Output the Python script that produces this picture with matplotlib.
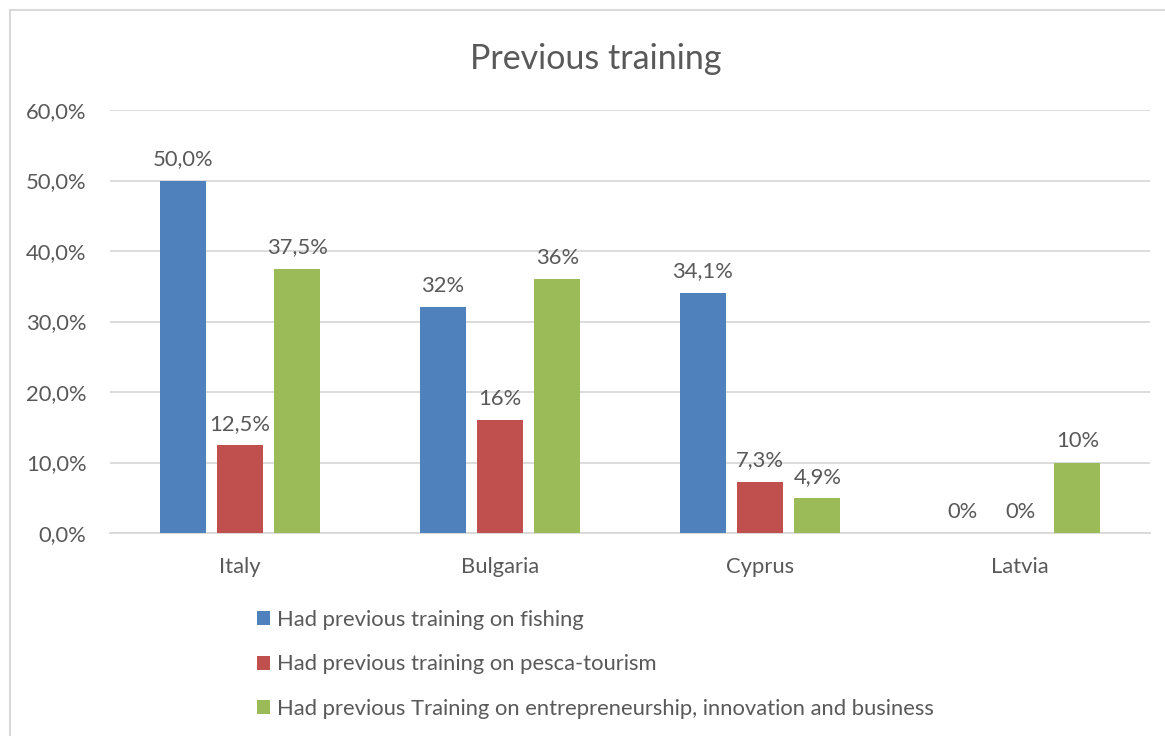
import matplotlib
matplotlib.use("Agg")
import matplotlib.pyplot as plt
import numpy as np
from matplotlib.patches import Rectangle

categories = ["Italy", "Bulgaria", "Cyprus", "Latvia"]
series_names = [
    "Had previous training on fishing",
    "Had previous training on pesca-tourism",
    "Had previous Training on entrepreneurship, innovation and business",
]
fishing = [50.0, 32.0, 34.1, 0.0]
pesca = [12.5, 16.0, 7.3, 0.0]
entre = [37.5, 36.0, 4.9, 10.0]
fishing_labels = ["50,0%", "32%", "34,1%", "0%"]
pesca_labels = ["12,5%", "16%", "7,3%", "0%"]
entre_labels = ["37,5%", "36%", "4,9%", "10%"]
yticks = [0, 10, 20, 30, 40, 50, 60]
ytick_labels = ["0,0%", "10,0%", "20,0%", "30,0%", "40,0%", "50,0%", "60,0%"]

colors = ["#4F81BD", "#C0504D", "#9BBB59"]
text_color = "#595959"
plt.rcParams["font.family"] = ["Lato", "DejaVu Sans"]
fs = 15.8

W, H = 1165, 736
fig = plt.figure(figsize=(W / 100, H / 100), dpi=100)
ax = fig.add_axes([110 / W, 1 - 533 / H, (1150 - 110) / W, (533 - 110) / H])

x = np.arange(len(categories))
bw = 0.177
step = 0.221
data = [fishing, pesca, entre]
labels = [fishing_labels, pesca_labels, entre_labels]
for i, (vals, labs) in enumerate(zip(data, labels)):
    pos = x + (i - 1) * step
    bars = ax.bar(pos, vals, bw, color=colors[i], label=series_names[i], zorder=3)
    ax.bar_label(bars, labels=labs, padding=8, fontsize=fs, color=text_color)

ax.set_xlim(-0.5, len(categories) - 0.5)
ax.set_ylim(0, 60)
ax.set_yticks(yticks)
ax.set_yticklabels(ytick_labels)
ax.set_xticks(x)
ax.set_xticklabels(categories)
ax.tick_params(axis="both", length=0, labelsize=fs, labelcolor=text_color)
ax.tick_params(axis="y", pad=17)
ax.tick_params(axis="x", pad=17)
ax.grid(axis="y", color="#D9D9D9", linewidth=1.3, zorder=0)
for s in ["top", "right", "left"]:
    ax.spines[s].set_visible(False)
ax.spines["bottom"].set_color("#D9D9D9")
ax.spines["bottom"].set_linewidth(1.3)

fig.text(596 / W, 1 - 59 / H, "Previous training", ha="center", va="center",
         fontsize=24.5, color=text_color)

handles, hl = ax.get_legend_handles_labels()
leg = fig.legend(handles, hl, loc="upper left", bbox_to_anchor=(257 / W, 1 - 610 / H),
                 frameon=False, ncol=1, fontsize=fs, labelcolor=text_color,
                 handlelength=0.6, handleheight=0.6, handletextpad=0.3,
                 labelspacing=1.11, borderpad=0, borderaxespad=0)

fig.patches.append(Rectangle((10 / W, -0.1), 1.2, 1 - 10 / H + 0.1,
                             transform=fig.transFigure, fill=False,
                             edgecolor="#D9D9D9", linewidth=1.5))
fig.savefig("out.png", dpi=100)
